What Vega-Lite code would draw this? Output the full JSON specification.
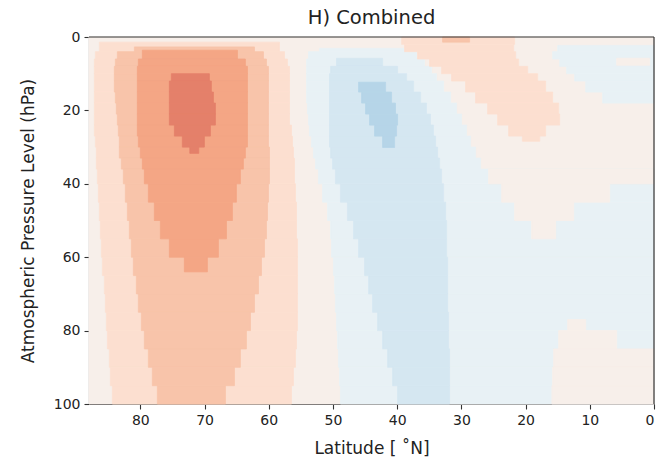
{
  "$schema": "https://vega.github.io/schema/vega-lite/v6.json",
  "autosize": {"type": "none"},
  "padding": {"left": 89, "top": 37, "right": 7, "bottom": 58},
  "width": 565,
  "height": 367,
  "background": "white",
  "title": {"text": "H) Combined", "fontSize": 19.5, "font": "DejaVu Sans", "fontWeight": "normal", "color": "#222", "offset": 6, "baseline": "bottom", "anchor": "middle", "dy": 23.5},
  "config": {
    "view": {"stroke": null},
    "axis": {"labelFont": "DejaVu Sans", "titleFont": "DejaVu Sans", "labelFontSize": 14, "titleFontSize": 17, "titleFontWeight": "normal", "labelColor": "#222", "titleColor": "#222", "domainColor": "#333", "tickColor": "#333", "tickSize": 5, "domainWidth": 1.2, "tickWidth": 1.1, "grid": false, "zindex": 1, "labelPadding": 4}
  },
  "layer": [
  {
  "data": {"values": [
    {"p1":0,"p2":100,"a":88,"b":0,"v":0},
    {"p1":1.4,"p2":4,"a":86.38,"b":58.33,"v":1},
    {"p1":4,"p2":6,"a":87.0,"b":57.55,"v":1},
    {"p1":6,"p2":8,"a":87.16,"b":57.08,"v":1},
    {"p1":8,"p2":10,"a":87.16,"b":56.77,"v":1},
    {"p1":10,"p2":12,"a":87.16,"b":56.77,"v":1},
    {"p1":12,"p2":15,"a":87.16,"b":56.77,"v":1},
    {"p1":15,"p2":18,"a":87.16,"b":56.77,"v":1},
    {"p1":18,"p2":21,"a":87.16,"b":56.77,"v":1},
    {"p1":21,"p2":24,"a":87.16,"b":56.77,"v":1},
    {"p1":24,"p2":27,"a":87.16,"b":56.46,"v":1},
    {"p1":27,"p2":30,"a":87.0,"b":56.31,"v":1},
    {"p1":30,"p2":33,"a":86.85,"b":56.15,"v":1},
    {"p1":33,"p2":36,"a":86.85,"b":56.0,"v":1},
    {"p1":36,"p2":40,"a":86.69,"b":56.0,"v":1},
    {"p1":40,"p2":45,"a":86.54,"b":55.84,"v":1},
    {"p1":45,"p2":50,"a":86.38,"b":55.68,"v":1},
    {"p1":50,"p2":55,"a":86.23,"b":55.68,"v":1},
    {"p1":55,"p2":60,"a":86.07,"b":55.53,"v":1},
    {"p1":60,"p2":65,"a":85.91,"b":55.53,"v":1},
    {"p1":65,"p2":70,"a":85.6,"b":55.53,"v":1},
    {"p1":70,"p2":75,"a":85.45,"b":55.53,"v":1},
    {"p1":75,"p2":80,"a":85.29,"b":55.53,"v":1},
    {"p1":80,"p2":85,"a":85.13,"b":55.68,"v":1},
    {"p1":85,"p2":90,"a":84.82,"b":55.84,"v":1},
    {"p1":90,"p2":95,"a":84.67,"b":56.15,"v":1},
    {"p1":95,"p2":100,"a":84.36,"b":56.46,"v":1},
    {"p1":2.7,"p2":4,"a":80.93,"b":62.23,"v":2},
    {"p1":4,"p2":6,"a":83.58,"b":60.83,"v":2},
    {"p1":6,"p2":8,"a":83.89,"b":60.36,"v":2},
    {"p1":8,"p2":10,"a":84.05,"b":60.05,"v":2},
    {"p1":10,"p2":12,"a":84.05,"b":60.05,"v":2},
    {"p1":12,"p2":15,"a":84.05,"b":60.05,"v":2},
    {"p1":15,"p2":18,"a":83.89,"b":60.05,"v":2},
    {"p1":18,"p2":21,"a":83.74,"b":60.05,"v":2},
    {"p1":21,"p2":24,"a":83.58,"b":60.05,"v":2},
    {"p1":24,"p2":27,"a":83.43,"b":60.05,"v":2},
    {"p1":27,"p2":30,"a":83.27,"b":60.05,"v":2},
    {"p1":30,"p2":33,"a":83.27,"b":59.89,"v":2},
    {"p1":33,"p2":36,"a":82.96,"b":59.89,"v":2},
    {"p1":36,"p2":40,"a":82.65,"b":59.89,"v":2},
    {"p1":40,"p2":45,"a":82.34,"b":60.05,"v":2},
    {"p1":45,"p2":50,"a":82.02,"b":60.2,"v":2},
    {"p1":50,"p2":55,"a":81.71,"b":60.36,"v":2},
    {"p1":55,"p2":60,"a":81.4,"b":60.67,"v":2},
    {"p1":60,"p2":65,"a":81.09,"b":61.14,"v":2},
    {"p1":65,"p2":70,"a":80.62,"b":61.6,"v":2},
    {"p1":70,"p2":75,"a":80.31,"b":62.23,"v":2},
    {"p1":75,"p2":80,"a":79.84,"b":62.85,"v":2},
    {"p1":80,"p2":85,"a":79.38,"b":63.48,"v":2},
    {"p1":85,"p2":90,"a":78.75,"b":64.42,"v":2},
    {"p1":90,"p2":95,"a":78.13,"b":65.35,"v":2},
    {"p1":95,"p2":100,"a":77.35,"b":66.75,"v":2},
    {"p1":3.6,"p2":6,"a":79.69,"b":64.88,"v":3},
    {"p1":6,"p2":8,"a":80.31,"b":63.64,"v":3},
    {"p1":8,"p2":10,"a":80.47,"b":63.32,"v":3},
    {"p1":10,"p2":12,"a":80.47,"b":63.32,"v":3},
    {"p1":12,"p2":15,"a":80.47,"b":63.32,"v":3},
    {"p1":15,"p2":18,"a":80.47,"b":63.32,"v":3},
    {"p1":18,"p2":21,"a":80.47,"b":63.32,"v":3},
    {"p1":21,"p2":24,"a":80.47,"b":63.32,"v":3},
    {"p1":24,"p2":27,"a":80.47,"b":63.32,"v":3},
    {"p1":27,"p2":30,"a":80.31,"b":63.32,"v":3},
    {"p1":30,"p2":33,"a":80.0,"b":63.64,"v":3},
    {"p1":33,"p2":36,"a":79.69,"b":63.95,"v":3},
    {"p1":36,"p2":40,"a":79.38,"b":64.42,"v":3},
    {"p1":40,"p2":45,"a":78.75,"b":65.04,"v":3},
    {"p1":45,"p2":50,"a":77.82,"b":65.66,"v":3},
    {"p1":50,"p2":55,"a":76.88,"b":66.59,"v":3},
    {"p1":55,"p2":60,"a":75.48,"b":67.84,"v":3},
    {"p1":60,"p2":64,"a":73.15,"b":69.56,"v":3},
    {"p1":10,"p2":12,"a":75.17,"b":69.25,"v":4},
    {"p1":12,"p2":15,"a":75.48,"b":68.94,"v":4},
    {"p1":15,"p2":18,"a":75.48,"b":68.62,"v":4},
    {"p1":18,"p2":21,"a":75.48,"b":68.31,"v":4},
    {"p1":21,"p2":24,"a":75.48,"b":68.31,"v":4},
    {"p1":24,"p2":27,"a":74.7,"b":69.09,"v":4},
    {"p1":27,"p2":30,"a":73.46,"b":70.03,"v":4},
    {"p1":30,"p2":31.7,"a":72.3,"b":70.9,"v":4},
    {"p1":3.1,"p2":4,"a":52.1,"b":38.54,"v":-1},
    {"p1":4,"p2":6,"a":53.81,"b":36.98,"v":-1},
    {"p1":6,"p2":8,"a":54.12,"b":35.74,"v":-1},
    {"p1":8,"p2":10,"a":54.12,"b":34.65,"v":-1},
    {"p1":10,"p2":12,"a":54.12,"b":33.87,"v":-1},
    {"p1":12,"p2":15,"a":54.12,"b":32.77,"v":-1},
    {"p1":15,"p2":18,"a":54.12,"b":31.68,"v":-1},
    {"p1":18,"p2":21,"a":53.97,"b":30.75,"v":-1},
    {"p1":21,"p2":24,"a":53.81,"b":29.97,"v":-1},
    {"p1":24,"p2":27,"a":53.66,"b":29.19,"v":-1},
    {"p1":27,"p2":30,"a":53.35,"b":28.57,"v":-1},
    {"p1":30,"p2":33,"a":53.04,"b":27.79,"v":-1},
    {"p1":33,"p2":36,"a":52.72,"b":27.01,"v":-1},
    {"p1":36,"p2":40,"a":52.26,"b":0,"v":-1},
    {"p1":40,"p2":45,"a":51.63,"b":0,"v":-1},
    {"p1":45,"p2":50,"a":50.85,"b":0,"v":-1},
    {"p1":50,"p2":55,"a":50.38,"b":0,"v":-1},
    {"p1":55,"p2":60,"a":50.23,"b":0,"v":-1},
    {"p1":60,"p2":65,"a":49.92,"b":0,"v":-1},
    {"p1":65,"p2":70,"a":49.76,"b":0,"v":-1},
    {"p1":70,"p2":75,"a":49.61,"b":0,"v":-1},
    {"p1":75,"p2":80,"a":49.45,"b":0,"v":-1},
    {"p1":80,"p2":85,"a":49.29,"b":0,"v":-1},
    {"p1":85,"p2":90,"a":49.14,"b":0,"v":-1},
    {"p1":90,"p2":95,"a":48.98,"b":0,"v":-1},
    {"p1":95,"p2":100,"a":48.83,"b":0,"v":-1},
    {"p1":36,"p2":40,"a":25.76,"b":0,"v":0},
    {"p1":40,"p2":45,"a":23.73,"b":6.9,"v":0},
    {"p1":45,"p2":50,"a":21.71,"b":12.51,"v":0},
    {"p1":50,"p2":55,"a":19.06,"b":15.32,"v":0},
    {"p1":5.8,"p2":8,"a":49.45,"b":42.28,"v":-2},
    {"p1":8,"p2":10,"a":50.38,"b":39.94,"v":-2},
    {"p1":10,"p2":12,"a":50.54,"b":38.54,"v":-2},
    {"p1":12,"p2":15,"a":50.54,"b":37.45,"v":-2},
    {"p1":15,"p2":18,"a":50.54,"b":36.36,"v":-2},
    {"p1":18,"p2":21,"a":50.54,"b":35.43,"v":-2},
    {"p1":21,"p2":24,"a":50.54,"b":34.81,"v":-2},
    {"p1":24,"p2":27,"a":50.54,"b":34.34,"v":-2},
    {"p1":27,"p2":30,"a":50.54,"b":34.02,"v":-2},
    {"p1":30,"p2":33,"a":50.38,"b":33.71,"v":-2},
    {"p1":33,"p2":36,"a":50.07,"b":33.4,"v":-2},
    {"p1":36,"p2":40,"a":49.61,"b":33.08,"v":-2},
    {"p1":40,"p2":45,"a":48.83,"b":32.77,"v":-2},
    {"p1":45,"p2":50,"a":47.74,"b":32.46,"v":-2},
    {"p1":50,"p2":55,"a":46.8,"b":32.31,"v":-2},
    {"p1":55,"p2":60,"a":46.02,"b":32.31,"v":-2},
    {"p1":60,"p2":65,"a":45.08,"b":32.15,"v":-2},
    {"p1":65,"p2":70,"a":44.46,"b":32.15,"v":-2},
    {"p1":70,"p2":75,"a":43.84,"b":32.15,"v":-2},
    {"p1":75,"p2":80,"a":43.06,"b":31.99,"v":-2},
    {"p1":80,"p2":85,"a":42.28,"b":31.99,"v":-2},
    {"p1":85,"p2":90,"a":41.5,"b":31.84,"v":-2},
    {"p1":90,"p2":95,"a":40.72,"b":31.84,"v":-2},
    {"p1":95,"p2":100,"a":39.94,"b":31.84,"v":-2},
    {"p1":12.3,"p2":15,"a":46.02,"b":41.81,"v":-3},
    {"p1":15,"p2":18,"a":45.55,"b":40.88,"v":-3},
    {"p1":18,"p2":21,"a":44.93,"b":40.26,"v":-3},
    {"p1":21,"p2":24,"a":44.3,"b":39.94,"v":-3},
    {"p1":24,"p2":27,"a":43.53,"b":40.1,"v":-3},
    {"p1":27,"p2":30.1,"a":42.28,"b":40.41,"v":-3},
    {"p1":0,"p2":2,"a":39.3,"b":21.71,"v":1},
    {"p1":2,"p2":4,"a":38.85,"b":21.86,"v":1},
    {"p1":4,"p2":6,"a":36.83,"b":21.55,"v":1},
    {"p1":6,"p2":8,"a":34.96,"b":21.08,"v":1},
    {"p1":8,"p2":10,"a":33.08,"b":19.68,"v":1},
    {"p1":10,"p2":12,"a":31.53,"b":18.12,"v":1},
    {"p1":12,"p2":15,"a":29.35,"b":16.88,"v":1},
    {"p1":15,"p2":18,"a":27.79,"b":15.79,"v":1},
    {"p1":18,"p2":21,"a":25.92,"b":14.85,"v":1},
    {"p1":21,"p2":24,"a":24.36,"b":14.69,"v":1},
    {"p1":24,"p2":27,"a":22.64,"b":16.88,"v":1},
    {"p1":27,"p2":28.4,"a":20.5,"b":17.8,"v":1},
    {"p1":0,"p2":1.4,"a":32.93,"b":28.72,"v":2},
    {"p1":2.3,"p2":4,"a":15.01,"b":0,"v":-1},
    {"p1":4,"p2":6,"a":15.79,"b":0,"v":-1},
    {"p1":6,"p2":8,"a":14.69,"b":0,"v":-1},
    {"p1":8,"p2":10,"a":13.61,"b":0,"v":-1},
    {"p1":10,"p2":12,"a":12.36,"b":0,"v":-1},
    {"p1":12,"p2":15,"a":10.64,"b":0,"v":-1},
    {"p1":15,"p2":18,"a":8.0,"b":0,"v":-1},
    {"p1":5.8,"p2":7.7,"a":5.81,"b":0.67,"v":0},
    {"p1":77,"p2":80,"a":13.45,"b":10.64,"v":0},
    {"p1":80,"p2":85,"a":14.85,"b":5.81,"v":0},
    {"p1":85,"p2":90,"a":15.63,"b":0,"v":0},
    {"p1":90,"p2":95,"a":15.8,"b":0,"v":0},
    {"p1":95,"p2":100,"a":15.9,"b":0,"v":0}
  ]},
  "mark": {"type": "rect", "strokeWidth": 0.8},
  "encoding": {
    "x": {"field": "a", "type": "quantitative", "scale": {"domain": [0, 88], "reverse": true, "nice": false, "zero": false},
          "axis": {"values": [0, 10, 20, 30, 40, 50, 60, 70, 80], "title": "Latitude [ ˚N]", "titleBaseline": "alphabetic", "titleY": 49}},
    "x2": {"field": "b"},
    "y": {"field": "p1", "type": "quantitative", "scale": {"domain": [0, 100], "reverse": true, "nice": false, "zero": false},
          "axis": {"values": [0, 20, 40, 60, 80, 100], "title": "Atmospheric Pressure Level (hPa)", "titleBaseline": "alphabetic", "titleX": -56, "titleAngle": 270}},
    "y2": {"field": "p2"},
    "color": {"field": "v", "type": "ordinal", "legend": null,
              "scale": {"domain": [-3, -2, -1, 0, 1, 2, 3, 4], "range": ["#b6d5e8", "#d5e7f1", "#e8f1f5", "#f7efea", "#fcdfd0", "#f8c4aa", "#f4a685", "#e4806a"]}},
    "stroke": {"field": "v", "type": "ordinal", "legend": null,
              "scale": {"domain": [-3, -2, -1, 0, 1, 2, 3, 4], "range": ["#b6d5e8", "#d5e7f1", "#e8f1f5", "#f7efea", "#fcdfd0", "#f8c4aa", "#f4a685", "#e4806a"]}}
  }
  },
  {
    "data": {"values": [{"a": 0}]},
    "mark": {"type": "rule", "color": "#333", "strokeWidth": 1.2},
    "encoding": {"x": {"field": "a", "type": "quantitative"}}
  },
  {
    "data": {"values": [{"p1": 0}]},
    "mark": {"type": "rule", "color": "#333", "strokeWidth": 1.2},
    "encoding": {"y": {"field": "p1", "type": "quantitative"}}
  }
  ]
}
